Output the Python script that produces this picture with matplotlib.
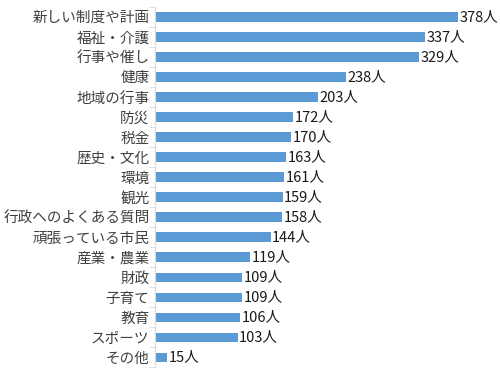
import numpy as np
import matplotlib

matplotlib.use("Agg")
import matplotlib.pyplot as plt

plt.rcParams["font.family"] = ["Noto Sans CJK JP", "DejaVu Sans"]

categories = ["新しい制度や計画", "福祉・介護", "行事や催し", "健康", "地域の行事",
              "防災", "税金", "歴史・文化", "環境", "観光", "行政へのよくある質問",
              "頑張っている市民", "産業・農業", "財政", "子育て", "教育", "スポーツ", "その他"]
counts = [378, 337, 329, 238, 203, 172, 170, 163, 161, 159, 158, 144, 119, 109, 109, 106, 103, 15]

fig = plt.figure(figsize=(5, 3.75), dpi=100)
ax = fig.add_axes([0.31, 0.02, 0.69, 0.962])

y = np.arange(len(categories))
ax.barh(y, counts, height=0.48, color="#5B9BD5")
for yi, v in zip(y, counts):
    ax.text(v + 2, yi, f"{v}人", va="center", ha="left", fontsize=10.5, color="#1a1a1a")

ax.set_ylim(len(categories) - 0.5, -0.5)
ax.set_xlim(0, 430)
ax.set_yticks(y)
ax.set_yticklabels(categories, fontsize=10.5, color="#404040")
ax.tick_params(axis="y", which="major", length=0, pad=4)
ax.set_yticks(np.arange(-0.5, len(categories)), minor=True)
ax.tick_params(axis="y", which="minor", length=4, color="#d9d9d9")
ax.set_xticks([])
for s in ["top", "right", "bottom"]:
    ax.spines[s].set_visible(False)
ax.spines["left"].set_color("#d9d9d9")

fig.savefig("out.png", dpi=100)
